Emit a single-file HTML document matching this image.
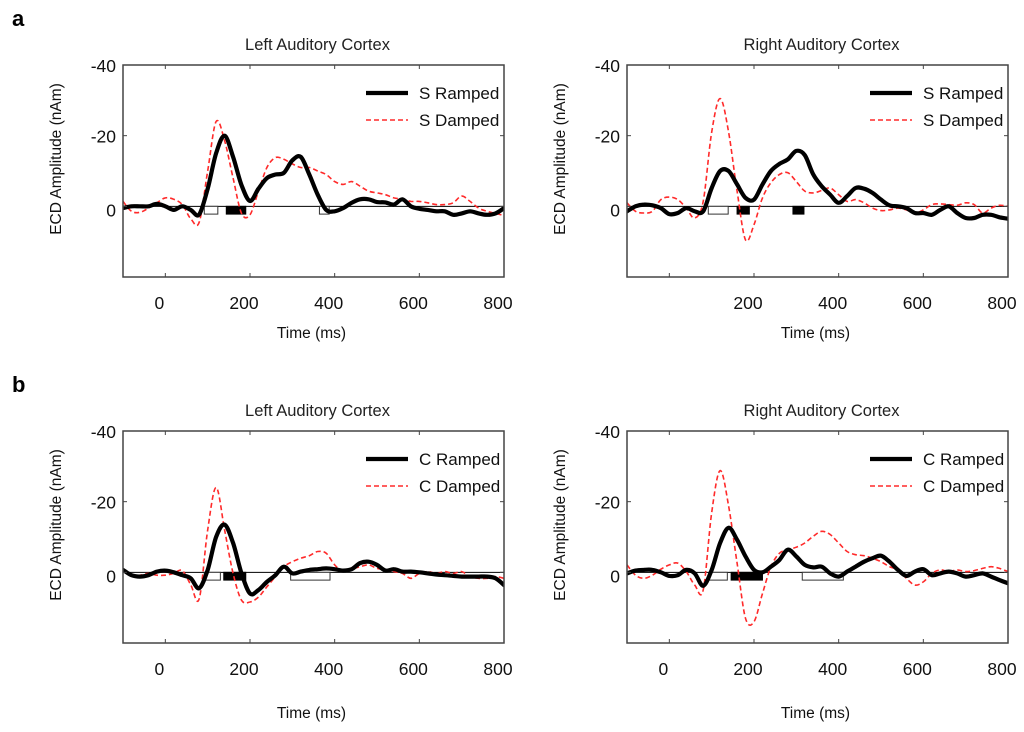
<!DOCTYPE html>
<html><head><meta charset="utf-8"><style>
html,body{margin:0;padding:0;background:#fff;}
svg{display:block;font-family:"Liberation Sans",Arial,sans-serif;}
</style></head><body>
<svg id="fig" width="1024" height="732" viewBox="0 0 1024 732">
<text x="12" y="26" font-size="22" font-weight="bold">a</text>
<text x="12" y="392" font-size="22" font-weight="bold">b</text>
</svg>
<script>
const times = [-100,-80,-60,-40,-20,0,20,40,60,80,100,120,140,160,180,200,220,240,260,280,300,320,340,360,380,400,420,440,460,480,500,520,540,560,580,600,620,640,660,680,700,720,740,760,780,800];
const xTicks = [0,200,400,600,800];
const yTicks = [-40,-20,0];

const aLeftRamped = [0.5,0,0,0,-0.7,0,1,0,1,2.3,-5,-15,-20,-14,-6,-1.5,-5,-8,-9,-9.5,-13,-14,-9,-3.3,1,1.4,0.5,-1,-2,-2,-1.2,-1.1,-0.5,-2,0,0.7,1,1.4,1.4,2.4,2,1.4,2,2.4,2,0.5];
const aLeftDamped = [-1.4,1.4,1.7,0.5,-1,-2.4,-2,-0.5,3.5,4.5,-10,-24,-18.6,-8,2,2.4,-4.3,-11,-13.8,-13.3,-12,-11,-11,-10,-9,-7,-6.2,-7,-5.7,-4.3,-3.8,-3.3,-2.4,-2,-1.4,-1.4,-1,-0.5,-0.5,-1,-2.9,-1.4,0.5,1.4,2,2.6];
const aRightRamped = [1.4,0,-0.5,-0.3,0.5,2.2,1.9,0.5,1.4,1.4,-5.2,-10,-10,-6.2,-2.4,-1.9,-6.2,-10,-12,-13.3,-15.7,-14.5,-9,-5.7,-3.3,-1,-2.9,-5.2,-5,-3.8,-1.9,-0.3,0,0.5,1.9,1.9,2.4,1,0,1.9,3.3,3.3,2.4,2.4,3.1,3.5];
const aRightDamped = [-1,1.4,1.9,1.4,-1.9,-2.6,-1.9,0.5,3.3,-1.4,-21,-30.5,-21,-4.3,9.5,5.2,-2.4,-6.7,-9,-9.5,-7,-4.3,-3.8,-4.5,-5.2,-3.3,-1.4,-1.9,-1,0.5,1.2,1,0.5,1,1.9,1,-0.5,-0.7,-0.5,-0.3,-1,-0.5,1.9,0.5,-0.3,0];
const bLeftRamped = [-0.7,0.8,1.2,0.8,-0.2,-0.5,0,0.8,1.7,4.5,-0.7,-10,-13.5,-8.3,0.3,6,5,2.7,0.8,-1.6,0.3,-0.2,-0.7,-0.9,-1.1,-0.9,-0.5,-0.9,-2.6,-3,-2.1,-0.5,-0.9,-0.2,-0.2,0,0.3,0.6,0.8,1,1.2,1.2,1.2,1.2,1.7,3.6];
const bLeftDamped = [-0.7,0.8,0.8,0.3,0.8,0.8,0.3,-0.5,3.5,7.5,-12,-24,-12,0.3,7.9,8.4,7,4.1,1.2,-1.6,-3,-4,-4.7,-5.9,-5.4,-2.1,-0.2,-0.9,-1.6,-2.1,-1.1,-0.7,-0.2,0.3,1.7,0.3,-0.2,0.3,-0.2,0.3,-0.2,1.2,1.7,1.7,1.2,1.7];
const bRightRamped = [0.3,-0.5,-0.7,-0.7,0,1,0.8,-0.7,0.3,3.8,-0.7,-8.3,-12.6,-9.2,-4.5,-0.7,0,-1.6,-3.5,-6.4,-4.5,-2.1,-1.4,-1.6,0.3,1.2,-0.2,-1.6,-3,-4,-4.7,-3,-0.7,1,-0.2,-0.9,0.8,0.3,-0.2,0.3,1.2,0.8,0.3,1.2,2.2,3.1];
const bRightDamped = [-2.1,0.8,1.7,0.8,-0.9,-2.1,-2.6,-0.2,3.6,5,-16.9,-28.8,-18.8,-2.6,13,14,6,-1.6,-5.4,-6.4,-7.1,-8.3,-10.2,-11.6,-10.7,-8.3,-5.9,-5,-4.7,-4,-3,-1.6,-0.7,1.7,3.6,2.7,0.3,-0.7,-0.2,-0.7,-0.2,-0.5,-1.1,-1.6,-1.1,-0.2];

const aLeftOpen = [[92,124],[364,387]];
const aLeftFilled = [[144,190]];
const aRightOpen = [[92,139]];
const aRightFilled = [[160,189],[292,318]];
const bLeftOpen = [[92,130],[296,389]];
const bLeftFilled = [[138,190]];
const bRightOpen = [[95,137],[314,411]];
const bRightFilled = [[146,220]];

const NS = "http://www.w3.org/2000/svg";
const svg = document.getElementById('fig');
function mk(tag, attrs, parent) {
  const e = document.createElementNS(NS, tag);
  for (const k in attrs) e.setAttribute(k, attrs[k]);
  (parent || svg).appendChild(e);
  return e;
}
function smoothPath(pts) {
  let d = "M" + pts[0][0].toFixed(1) + "," + pts[0][1].toFixed(1);
  for (let i = 0; i < pts.length - 1; i++) {
    const p0 = pts[Math.max(0, i - 1)], p1 = pts[i], p2 = pts[i + 1], p3 = pts[Math.min(pts.length - 1, i + 2)];
    const c1x = p1[0] + (p2[0] - p0[0]) / 6, c1y = p1[1] + (p2[1] - p0[1]) / 6;
    const c2x = p2[0] - (p3[0] - p1[0]) / 6, c2y = p2[1] - (p3[1] - p1[1]) / 6;
    d += " C" + c1x.toFixed(1) + "," + c1y.toFixed(1) + " " + c2x.toFixed(1) + "," + c2y.toFixed(1) + " " + p2[0].toFixed(1) + "," + p2[1].toFixed(1);
  }
  return d;
}

function panel(cfg) {
  const L = cfg.left, R = cfg.left + 381, T = cfg.top, B = cfg.top + 212;
  const x = t => L + (t + 100) / 900 * (R - L);
  const y = v => T + (v + 40) / 60 * (B - T);
  const g = mk('g', {});
  
  

  const title = mk('text', {x: (L + R) / 2 + 4, y: T - 15, 'font-size': 16.5, 'text-anchor': 'middle', fill: '#222'}, g);
  title.textContent = cfg.title;
  
  

  const clipId = 'clip-' + cfg.name;
  const cp = mk('clipPath', {id: clipId}, g);
  mk('rect', {x: L, y: T, width: R - L, height: B - T}, cp);

  const zl = mk('line', {x1: L, x2: R, y1: y(0), y2: y(0), stroke: '#000', 'stroke-width': 1}, g);
  
  

  cfg.open.forEach(s => {
    const r = mk('rect', {x: x(s[0]), y: y(0), width: x(s[1]) - x(s[0]), height: y(2.2) - y(0), fill: '#fff', stroke: '#333', 'stroke-width': 1}, g);
    
    
  });
  cfg.filled.forEach(s => {
    const r = mk('rect', {x: x(s[0]), y: y(0), width: x(s[1]) - x(s[0]), height: y(2.2) - y(0), fill: '#000', stroke: '#000', 'stroke-width': 1}, g);
    
    
  });

  const lg = mk('g', {'clip-path': 'url(#' + clipId + ')'}, g);
  const dp = mk('path', {d: smoothPath(times.map((t, i) => [x(t), y(cfg.damped[i])])), fill: 'none', stroke: '#ff2a2a', 'stroke-width': 1.6, 'stroke-dasharray': '5,3'}, lg);
  
  
  const rp = mk('path', {d: smoothPath(times.map((t, i) => [x(t), y(cfg.ramped[i])])), fill: 'none', stroke: '#000', 'stroke-width': 4.2, 'stroke-linejoin': 'round', 'stroke-linecap': 'round'}, lg);
  
  

  const fr = mk('rect', {x: L, y: T, width: R - L, height: B - T, fill: 'none', stroke: '#444', 'stroke-width': 1.5}, g);
  
  

  xTicks.forEach(t => {
    mk('line', {x1: x(t), x2: x(t), y1: B, y2: B - 4, stroke: '#444', 'stroke-width': 1}, g);
    mk('line', {x1: x(t), x2: x(t), y1: T, y2: T + 4, stroke: '#444', 'stroke-width': 1}, g);
    if (t === 0 && cfg.hideZero) return;
    const tl = mk('text', {x: x(t) - 6, y: B + 32, 'font-size': 17.5, 'text-anchor': 'middle', fill: '#111'}, g);
    tl.textContent = t;
    
    
  });
  yTicks.forEach(v => {
    mk('line', {x1: L, x2: L + 4, y1: y(v), y2: y(v), stroke: '#444', 'stroke-width': 1}, g);
    mk('line', {x1: R, x2: R - 4, y1: y(v), y2: y(v), stroke: '#444', 'stroke-width': 1}, g);
    const yl = mk('text', {x: L - 7, y: y(v) + 7 + (v === 0 ? 3 : 0), 'font-size': 17.5, 'text-anchor': 'end', fill: '#111'}, g);
    yl.textContent = v;
    
    
  });

  const xt = mk('text', {x: (L + R) / 2 - 2, y: cfg.xTitleY, 'font-size': 15.5, 'text-anchor': 'middle', fill: '#111'}, g);
  xt.textContent = 'Time (ms)';
  
  
  const cy = (T + B) / 2 - 12;
  const cx = L - 62;
  const yt = mk('text', {x: cx, y: cy, 'font-size': 15.5, 'text-anchor': 'middle', fill: '#111', transform: 'rotate(-90 ' + cx + ' ' + cy + ')'}, g);
  yt.textContent = 'ECD Amplitude (nAm)';
  
  

  const lx = R - 138;
  const ly1 = T + 28, ly2 = T + 55;
  const l1 = mk('line', {x1: lx, x2: lx + 42, y1: ly1, y2: ly1, stroke: '#000', 'stroke-width': 4.2}, g);
  
  
  const t1 = mk('text', {x: lx + 53, y: ly1 + 6, 'font-size': 17, fill: '#111'}, g);
  t1.textContent = cfg.prefix + ' Ramped';
  
  
  const l2 = mk('line', {x1: lx, x2: lx + 42, y1: ly2, y2: ly2, stroke: '#ff2a2a', 'stroke-width': 1.6, 'stroke-dasharray': '5,3'}, g);
  
  
  const t2 = mk('text', {x: lx + 53, y: ly2 + 6, 'font-size': 17, fill: '#111'}, g);
  t2.textContent = cfg.prefix + ' Damped';
  
  
}

panel({name: 'panel-a-left', title: 'Left Auditory Cortex', left: 123, top: 65, ramped: aLeftRamped, damped: aLeftDamped, open: aLeftOpen, filled: aLeftFilled, prefix: 'S', xTitleY: 338});
panel({name: 'panel-a-right', title: 'Right Auditory Cortex', left: 627, top: 65, ramped: aRightRamped, damped: aRightDamped, open: aRightOpen, filled: aRightFilled, prefix: 'S', xTitleY: 338, hideZero: true});
panel({name: 'panel-b-left', title: 'Left Auditory Cortex', left: 123, top: 431, ramped: bLeftRamped, damped: bLeftDamped, open: bLeftOpen, filled: bLeftFilled, prefix: 'C', xTitleY: 718});
panel({name: 'panel-b-right', title: 'Right Auditory Cortex', left: 627, top: 431, ramped: bRightRamped, damped: bRightDamped, open: bRightOpen, filled: bRightFilled, prefix: 'C', xTitleY: 718});
</script>
</body></html>
